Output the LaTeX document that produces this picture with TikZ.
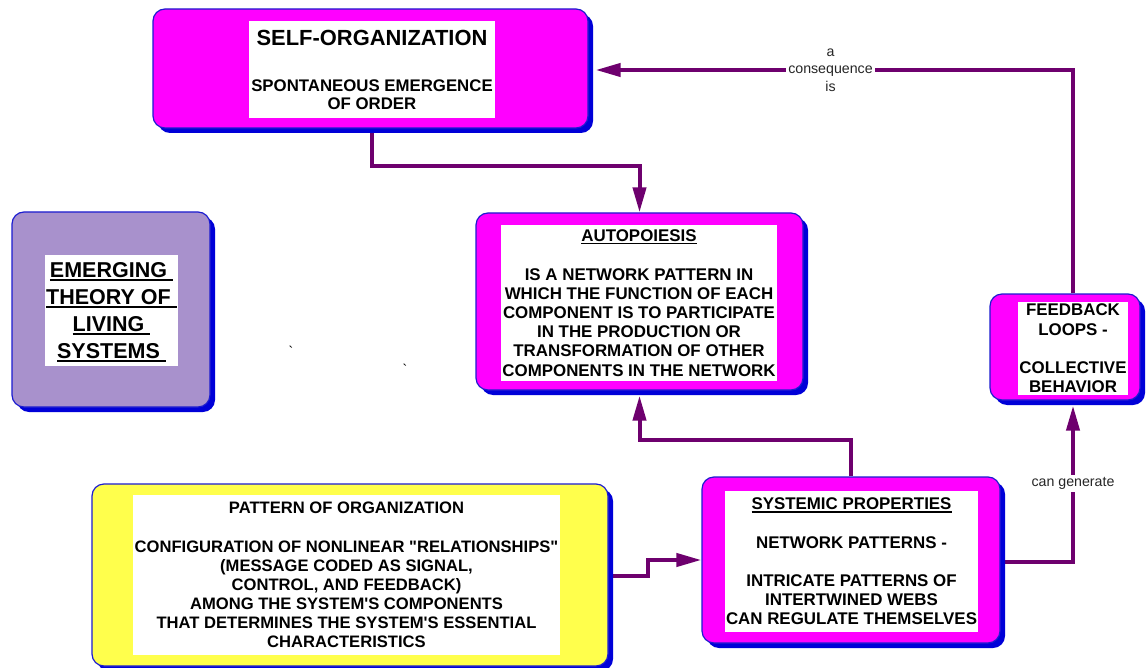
\documentclass[tikz,border=0pt]{standalone}
\usepackage{fontspec}
\newfontfamily\arialfont{Liberation Sans}
\usetikzlibrary{arrows.meta,shadows,backgrounds}

\definecolor{magbg}{HTML}{FF00FF}
\definecolor{edgeblue}{HTML}{1C1CD0}
\definecolor{shadeblue}{HTML}{0000D8}
\definecolor{lavbg}{HTML}{A891CC}
\definecolor{yellowbg}{HTML}{FFFF4C}
\definecolor{linkpurple}{HTML}{6E006E}

% underlined phrase with a heavy rule just below the baseline
\newcommand\ulx[1]{\setbox0\hbox{#1}\rlap{\smash{\rule[-0.17em]{\wd0}{0.1em}}}\box0}

\tikzset{
  boxbase/.style={draw=edgeblue, line width=1.2pt, rounded corners=12pt,
    inner sep=0pt,
    general shadow={fill=shadeblue, shadow xshift=5pt, shadow yshift=-5pt}},
  magbox/.style={boxbase, fill=magbg},
  lavbox/.style={boxbase, fill=lavbg},
  yelbox/.style={boxbase, fill=yellowbg},
  textpanel/.style={fill=white, inner sep=0pt, align=center,
    font=\arialfont\bfseries\fontsize{16.9}{19.2}\selectfont},
  conn/.style={draw=linkpurple, line width=4pt,
    -{Triangle[length=25pt,width=13pt]}},
  lbl/.style={font=\arialfont\fontsize{14.2}{17.5}\selectfont, fill=white,
    inner sep=2.5pt, align=center, text=black!85},
  straymark/.style={font=\arialfont\fontsize{14}{14}\selectfont, inner sep=0pt}
}

\begin{document}
\begin{tikzpicture}[x=1pt,y=-1pt]
\useasboundingbox (0,0) rectangle (1147,668);

% --- boxes ---
\node[magbox, minimum width=435pt, minimum height=119pt] (selforg) at (370.5,68.5) {};
\node[textpanel, minimum width=246pt, minimum height=97pt,
      font=\arialfont\bfseries\fontsize{16.8}{18}\selectfont] (selforgtext) at (372,69.5)
  {{\fontsize{21.9}{26}\selectfont SELF-ORGANIZATION}\\[28pt]SPONTANEOUS EMERGENCE\\OF ORDER};

\node[lavbox, minimum width=198pt, minimum height=195pt] (emerg) at (111,309.5) {};
\node[textpanel, minimum width=133pt, minimum height=111pt,
      font=\arialfont\bfseries\fontsize{21.5}{27}\selectfont] (emergtext) at (111.5,310.5)
  {\ulx{EMERGING\ }\\\ulx{THEORY OF\ }\\\ulx{LIVING\ }\\\ulx{SYSTEMS\ }};

\node[magbox, minimum width=327pt, minimum height=177pt] (autop) at (639.5,301.5) {};
\node[textpanel, minimum width=276pt, minimum height=156pt] (autoptext) at (639,303)
  {\ulx{AUTOPOIESIS}\\[19.2pt]IS A NETWORK PATTERN IN\\WHICH THE FUNCTION OF EACH\\
   COMPONENT IS TO PARTICIPATE\\IN THE PRODUCTION OR\\TRANSFORMATION OF OTHER\\
   COMPONENTS IN THE NETWORK};

\node[yelbox, minimum width=516pt, minimum height=182pt] (pattern) at (350,575) {};
\node[textpanel, minimum width=427pt, minimum height=160pt,
      font=\arialfont\bfseries\fontsize{16.6}{19.1}\selectfont] (patterntext) at (346.5,575)
  {PATTERN OF ORGANIZATION\\[19.1pt]CONFIGURATION OF NONLINEAR "RELATIONSHIPS"\\
   (MESSAGE CODED AS SIGNAL,\\CONTROL, AND FEEDBACK)\\AMONG THE SYSTEM'S COMPONENTS\\
   THAT DETERMINES THE SYSTEM'S ESSENTIAL\\CHARACTERISTICS};

\node[magbox, minimum width=298pt, minimum height=166pt] (systemic) at (851,560) {};
\node[textpanel, minimum width=253pt, minimum height=141pt] (systemictext) at (851.5,561.5)
  {\ulx{SYSTEMIC PROPERTIES}\\[19.2pt]NETWORK PATTERNS -\\[19.2pt]INTRICATE PATTERNS OF\\
   INTERTWINED WEBS\\CAN REGULATE THEMSELVES};

\node[magbox, minimum width=150pt, minimum height=106pt] (feedback) at (1065,347) {};
\node[textpanel, minimum width=110pt, minimum height=93pt] (feedbacktext) at (1073,348.5)
  {FEEDBACK\\LOOPS -\\[19.2pt]COLLECTIVE\\BEHAVIOR};

% small stray marks
\node[straymark] (mark1) at (291,351) {`};
\node[straymark] (mark2) at (405,369) {`};

% --- connectors, drawn behind the boxes on a white sheet ---
\begin{scope}[on background layer]
\fill[white] (0,0) rectangle (1147,668);
\draw[conn] ([xshift=1.5pt]selforg.south) -- ++(0,37) -| (autop.north);
\draw[conn] (systemic.north) -- ++(0,-36) -| ([yshift=-5pt]autop.south);
\draw[conn] ([xshift=4pt,yshift=-1pt]pattern.east) -- ++(35,0) |- (systemic.west);
\draw[conn] ([xshift=3pt,yshift=-2pt]systemic.east)
  -| node[lbl, pos=0.75] (lblgen) {can generate} ([xshift=8pt,yshift=-5pt]feedback.south);
\draw[conn] ([xshift=8pt]feedback.north)
  |- node[lbl, pos=0.754] (lblcons) {a\\consequence\\is} ([xshift=7pt,yshift=-1.5pt]selforg.east);
\end{scope}
\end{tikzpicture}
\end{document}
